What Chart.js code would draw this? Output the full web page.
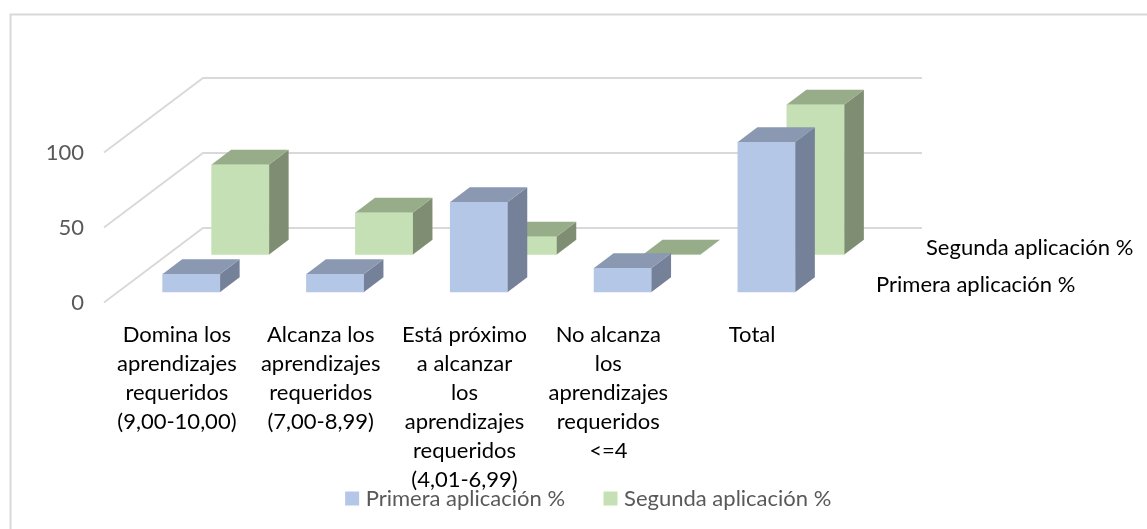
<!DOCTYPE html>
<html>
<head>
<meta charset="utf-8">
<style>
  html, body { margin: 0; padding: 0; background: #fff; }
  #wrap { position: relative; width: 1147px; height: 529px; }
</style>
<script src="https://cdn.jsdelivr.net/npm/chart.js@4"></script>
</head>
<body>
<div id="wrap"><canvas id="chart"></canvas></div>
<script>
const categories = [
  ["Domina los", "aprendizajes", "requeridos", "(9,00-10,00)"],
  ["Alcanza los", "aprendizajes", "requeridos", "(7,00-8,99)"],
  ["Está próximo", "a alcanzar", "los", "aprendizajes", "requeridos", "(4,01-6,99)"],
  ["No alcanza", "los", "aprendizajes", "requeridos", "<=4"],
  ["Total"],
];
const primera = [12, 12, 60, 16, 100];
const segunda = [60, 28, 12, 0, 100];
const yTicks = [0, 50, 100];

const FONT = "Lato, 'Open Sans', sans-serif";

// fake 3D: each bar gets a top and a side face, the back row is shifted
const barDepth = { dx: 19.5, dy: -14.7 };
const backRow = { dx: 49, dy: -37.5 };

const faces = {
  "Primera aplicación %": { side: "#748198", top: "#8A99B1", shift: { dx: 0, dy: 0 }, labelX: 876, labelY: 285 },
  "Segunda aplicación %": { side: "#7F8E72", top: "#97AC88", shift: backRow, labelX: 926, labelY: 248 },
};

const pseudo3d = {
  id: "pseudo3d",
  afterLayout(chart) {
    // tick labels run under the legend, don't let the axis box clip them
    chart.scales.x.bottom = chart.height;
  },
  beforeDraw(chart) {
    const ctx = chart.ctx;
    ctx.save();
    ctx.strokeStyle = "#D9D9D9";
    ctx.lineWidth = 2;
    ctx.beginPath();
    ctx.moveTo(10.5, 529);
    ctx.lineTo(10.5, 14.5);
    ctx.lineTo(1147, 14.5);
    ctx.stroke();
    ctx.restore();
  },
  beforeDatasetsDraw(chart) {
    const ctx = chart.ctx;
    const y = chart.scales.y;
    ctx.save();
    ctx.strokeStyle = "#D9D9D9";
    ctx.lineWidth = 2;
    yTicks.forEach((v) => {
      const py = y.getPixelForValue(v) + 10.5;
      ctx.beginPath();
      ctx.moveTo(104, py);
      ctx.lineTo(203, py - 74.5);
      ctx.lineTo(922, py - 74.5);
      ctx.stroke();
    });
    ctx.restore();
  },
  beforeDatasetDraw(chart, args) {
    const s = faces[chart.data.datasets[args.index].label].shift;
    chart.ctx.save();
    chart.ctx.translate(s.dx, s.dy);
  },
  afterDatasetDraw(chart, args) {
    const ctx = chart.ctx;
    const f = faces[chart.data.datasets[args.index].label];
    args.meta.data.forEach((bar) => {
      const { x, y, base, width } = bar.getProps(["x", "y", "base", "width"], true);
      const l = x - width / 2;
      const r = x + width / 2;
      ctx.fillStyle = f.side;
      ctx.beginPath();
      ctx.moveTo(r, y);
      ctx.lineTo(r + barDepth.dx, y + barDepth.dy);
      ctx.lineTo(r + barDepth.dx, base + barDepth.dy);
      ctx.lineTo(r, base);
      ctx.closePath();
      ctx.fill();
      ctx.fillStyle = f.top;
      ctx.beginPath();
      ctx.moveTo(l, y);
      ctx.lineTo(l + barDepth.dx, y + barDepth.dy);
      ctx.lineTo(r + barDepth.dx, y + barDepth.dy);
      ctx.lineTo(r, y);
      ctx.closePath();
      ctx.fill();
    });
    ctx.restore();
  },
  afterDatasetsDraw(chart) {
    // series names on the depth axis
    const ctx = chart.ctx;
    ctx.save();
    ctx.font = "22px " + FONT;
    ctx.fillStyle = "#000";
    ctx.textBaseline = "middle";
    chart.data.datasets.forEach((d) => {
      const f = faces[d.label];
      ctx.fillText(d.label, f.labelX, f.labelY);
    });
    ctx.restore();
  },
};

new Chart(document.getElementById("chart"), {
  type: "bar",
  plugins: [pseudo3d],
  data: {
    labels: categories,
    datasets: [
      { label: "Primera aplicación %", data: primera, backgroundColor: "#B4C7E7", order: 1, clip: false },
      { label: "Segunda aplicación %", data: segunda, backgroundColor: "#C5E0B4", order: 2, clip: false },
    ],
  },
  options: {
    responsive: true,
    maintainAspectRatio: false,
    animation: false,
    layout: { padding: { left: 34, top: 142, right: 0, bottom: 9.5 } },
    datasets: { bar: { grouped: false, barThickness: 57.5 } },
    scales: {
      x: {
        grid: { display: false },
        border: { display: false },
        ticks: {
          autoSkip: false,
          maxRotation: 0,
          padding: 20,
          labelOffset: -14.5,
          color: "#000",
          font: { family: FONT, size: 22, lineHeight: 1.318 },
        },
        afterFit(scale) { scale.height = 152.5; },
      },
      y: {
        min: 0,
        max: 100,
        grid: { display: false, drawTicks: false },
        border: { display: false },
        afterBuildTicks(scale) { scale.ticks = yTicks.map((value) => ({ value })); },
        ticks: {
          padding: 35.5,
          labelOffset: 11,
          color: "#595959",
          font: { family: FONT, size: 22 },
        },
        afterFit(scale) { scale.width = 85.5; },
      },
      yRight: {
        position: "right",
        grid: { display: false, drawTicks: false },
        border: { display: false },
        ticks: { display: false },
        afterFit(scale) { scale.width = 308.5; },
      },
    },
    plugins: {
      tooltip: { enabled: false },
      legend: {
        position: "bottom",
        labels: {
          usePointStyle: true,
          pointStyle: "rect",
          boxWidth: 5,
          boxHeight: 14,
          padding: 43,
          color: "#595959",
          font: { family: FONT, size: 22 },
        },
      },
    },
  },
});
</script>
</body>
</html>
